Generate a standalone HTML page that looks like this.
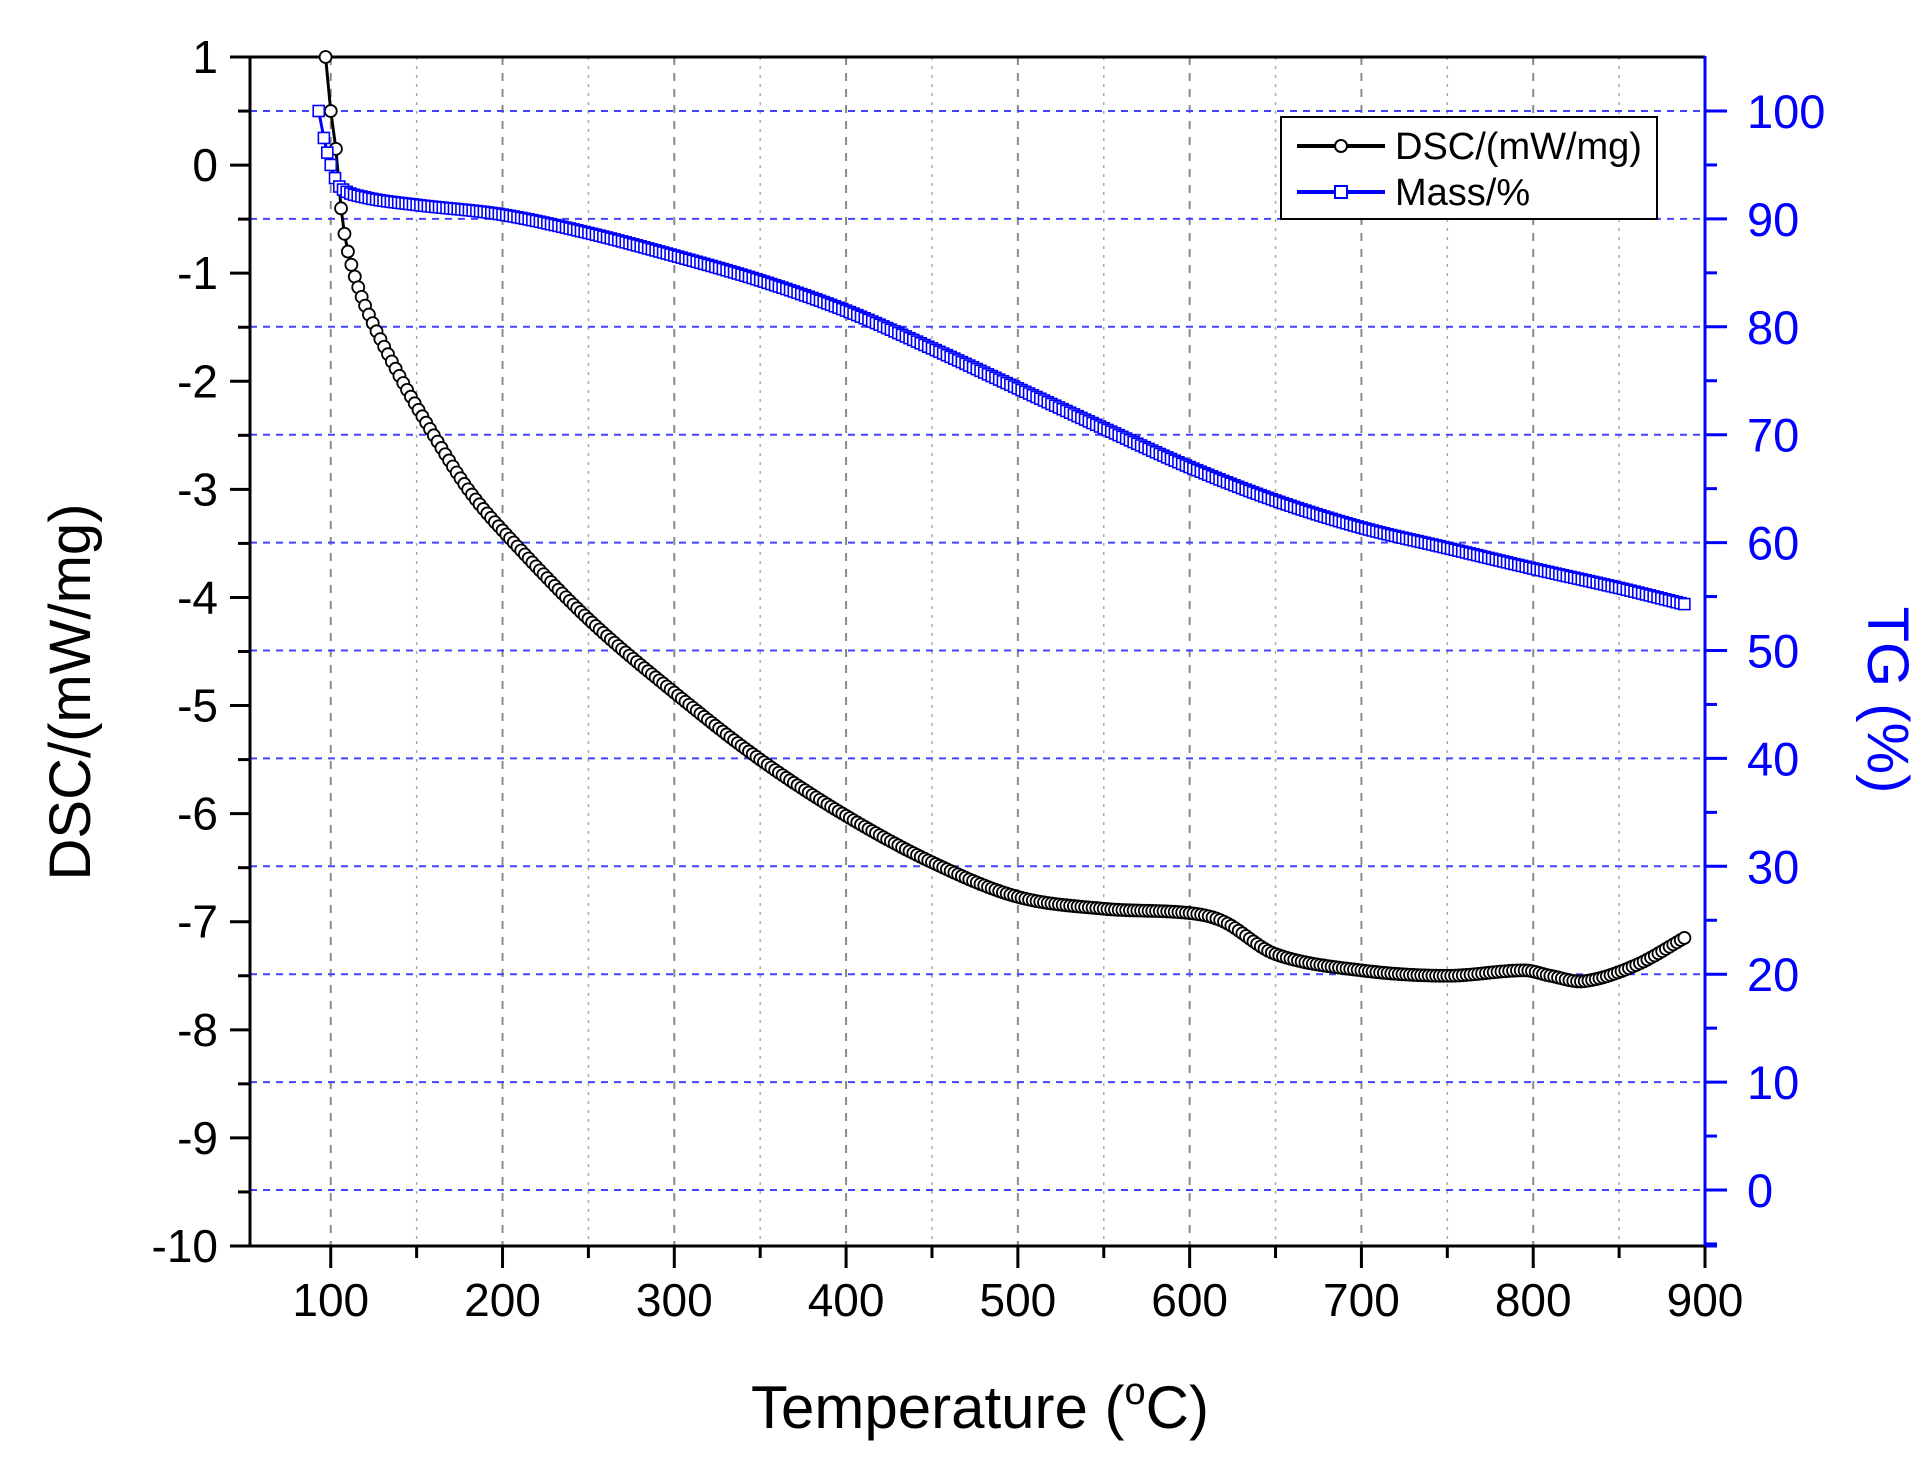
<!DOCTYPE html>
<html><head><meta charset="utf-8"><style>
html,body{margin:0;padding:0;background:#fff;}
svg{display:block;font-family:"Liberation Sans",Arial,sans-serif;}
</style></head><body>
<svg id="s" width="1932" height="1480" xmlns="http://www.w3.org/2000/svg"></svg>
<script>
const S=document.getElementById('s');
const L=250,R=1705,T=57,B=1246;
const X=t=>L+(t-53)*(R-L)/(900-53);
const YD=v=>T+(1-v)*(B-T)/11;
const YM=m=>1190-m*(1190-111)/100;
let h='';
for(let t=100;t<900;t+=50){const x=X(t);const maj=t%100==0;
h+=`<line x1="${x}" y1="${T}" x2="${x}" y2="${B}" stroke="${maj?'#888':'#aaa'}" stroke-width="${maj?2:1.5}" stroke-dasharray="${maj?'8,8':'3,6'}"/>`;}
for(let m=0;m<=100;m+=10){const y=YM(m);h+=`<line x1="${L}" y1="${y}" x2="${R}" y2="${y}" stroke="#4444ff" stroke-width="2" stroke-dasharray="7,6"/>`;}
h+=`<line x1="${L}" y1="${T}" x2="${R}" y2="${T}" stroke="#000" stroke-width="3"/>`;
h+=`<line x1="${L}" y1="${B}" x2="${R}" y2="${B}" stroke="#000" stroke-width="3"/>`;
h+=`<line x1="${L}" y1="${T-1}" x2="${L}" y2="${B+1}" stroke="#000" stroke-width="3"/>`;
h+=`<line x1="${R}" y1="${T-1}" x2="${R}" y2="${B+1}" stroke="#0000ff" stroke-width="3"/>`;
for(let v=1;v>=-10;v--){const y=YD(v);h+=`<line x1="${L-20}" y1="${y}" x2="${L}" y2="${y}" stroke="#000" stroke-width="3"/>`;
h+=`<text x="${L-32}" y="${y+16}" font-size="46" text-anchor="end">${v}</text>`;
if(v>-10){const y2=YD(v-0.5);h+=`<line x1="${L-12}" y1="${y2}" x2="${L}" y2="${y2}" stroke="#000" stroke-width="3"/>`;}}
for(let m=0;m<=100;m+=10){const y=YM(m);h+=`<line x1="${R}" y1="${y}" x2="${R+22}" y2="${y}" stroke="#0000ff" stroke-width="3"/>`;
h+=`<text x="${R+42}" y="${y+17}" font-size="47" fill="#0000ff">${m}</text>`;
const y2=YM(m-5);if(y2<B)h+=`<line x1="${R}" y1="${y2}" x2="${R+12}" y2="${y2}" stroke="#0000ff" stroke-width="3"/>`;}
h+=`<line x1="${R}" y1="${B}" x2="${R+12}" y2="${B}" stroke="#0000ff" stroke-width="3"/>`;
for(let t=100;t<=900;t+=50){const x=X(t);const maj=t%100==0;
h+=`<line x1="${x}" y1="${B}" x2="${x}" y2="${B+(maj?22:12)}" stroke="#000" stroke-width="3"/>`;
if(maj)h+=`<text x="${x}" y="${B+70}" font-size="46" text-anchor="middle">${t}</text>`;}
h+=`<text transform="translate(90,692) rotate(-90)" font-size="58" text-anchor="middle">DSC/(mW/mg)</text>`;
h+=`<text transform="translate(1868,700) rotate(90)" font-size="58" text-anchor="middle" fill="#0000ff">TG (%)</text>`;
h+=`<text x="980" y="1428" font-size="60" text-anchor="middle">Temperature (<tspan dy="-24" font-size="38">o</tspan><tspan dy="24">C)</tspan></text>`;
function spline(pts,step){const out=[];const n=pts.length;
for(let i=0;i<n-1;i++){const p0=pts[Math.max(0,i-1)],p1=pts[i],p2=pts[i+1],p3=pts[Math.min(n-1,i+2)];
const m1=(p2[1]-p0[1])/(p2[0]-p0[0])*(p2[0]-p1[0]),m2=(p3[1]-p1[1])/(p3[0]-p1[0])*(p2[0]-p1[0]);
const k=Math.max(1,Math.round((p2[0]-p1[0])/step));
for(let j=0;j<k;j++){const s=j/k,s2=s*s,s3=s2*s;
const v=(2*s3-3*s2+1)*p1[1]+(s3-2*s2+s)*m1+(-2*s3+3*s2)*p2[1]+(s3-s2)*m2;
out.push([p1[0]+(p2[0]-p1[0])*s,v]);}}
out.push(pts[n-1]);return out;}
const dsc=[[97,1],[100,0.5],[103,0.15],[106,-0.4],[110,-0.8],[120,-1.3],[140,-1.95],[160,-2.5],[180,-3.0],[200,-3.38],[250,-4.2],[300,-4.88],[350,-5.5],[400,-6.02],[450,-6.45],[500,-6.77],[550,-6.88],[600,-6.92],[620,-7.0],[650,-7.3],[700,-7.45],[750,-7.5],[795,-7.45],[810,-7.5],[830,-7.55],[860,-7.4],[888,-7.15]];
const mass=[[93,100],[96,97.5],[100,95],[105,93],[120,92],[150,91.3],[200,90.4],[250,88.7],[300,86.6],[350,84.3],[400,81.5],[450,78],[500,74.3],[550,70.6],[600,67],[650,63.9],[700,61.4],[750,59.5],[800,57.6],[850,55.8],[888,54.3]];
const dp=spline(dsc,2.2),mp=spline(mass,2.2);
h+=`<polyline fill="none" stroke="#000" stroke-width="3" points="${dp.map(p=>X(p[0])+','+YD(p[1])).join(' ')}"/>`;
dp.forEach(p=>{h+=`<circle cx="${X(p[0])}" cy="${YD(p[1])}" r="6" fill="#fff" stroke="#000" stroke-width="1.8"/>`;});
h+=`<polyline fill="none" stroke="#0000ff" stroke-width="3" points="${mp.map(p=>X(p[0])+','+YM(p[1])).join(' ')}"/>`;
mp.forEach(p=>{h+=`<rect x="${X(p[0])-5.5}" y="${YM(p[1])-5.5}" width="11" height="11" fill="#fff" stroke="#0000ff" stroke-width="1.6"/>`;});
h+=`<rect x="1281" y="117" width="376" height="102" fill="#fff" stroke="#000" stroke-width="2"/>`;
h+=`<line x1="1297" y1="146" x2="1385" y2="146" stroke="#000" stroke-width="4"/><circle cx="1341" cy="146" r="6" fill="#fff" stroke="#000" stroke-width="2"/>`;
h+=`<text x="1395" y="159" font-size="38">DSC/(mW/mg)</text>`;
h+=`<line x1="1297" y1="192" x2="1385" y2="192" stroke="#0000ff" stroke-width="4"/><rect x="1335" y="186" width="12" height="12" fill="#fff" stroke="#0000ff" stroke-width="2"/>`;
h+=`<text x="1395" y="205" font-size="38">Mass/%</text>`;
S.innerHTML=h;
</script>
</body></html>
